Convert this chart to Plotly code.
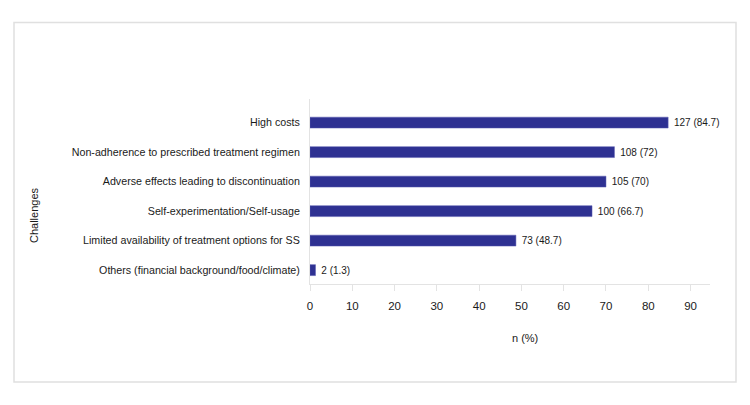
import plotly.graph_objects as go

categories = [
    "Others (financial background/food/climate)",
    "Limited availability of treatment options for SS",
    "Self-experimentation/Self-usage",
    "Adverse effects leading to discontinuation",
    "Non-adherence to prescribed treatment regimen",
    "High costs",
]
counts = [2, 73, 100, 105, 108, 127]
percents = [1.3, 48.7, 66.7, 70, 72, 84.7]
labels = [f" {n} ({p:g})" for n, p in zip(counts, percents)]

FONT = "Liberation Sans, Arial, sans-serif"
L, R, T, B = 310, 40, 99, 121
W, H = 750, 405
pw, ph = W - L - R, H - T - B

def px2paper_x(x):
    return (x - L) / pw

def px2paper_y(y):
    return (H - B - y) / ph

fig = go.Figure(go.Bar(
    y=categories, x=percents, orientation="h",
    marker=dict(color="#2e3192", line=dict(color="#5a5db0", width=0.5)),
    width=0.37,
    text=labels, textposition="outside", cliponaxis=False,
    textfont=dict(family=FONT, size=11, color="#1a1a1a"),
))

fig.update_layout(
    width=W, height=H,
    margin=dict(l=L, r=R, t=T, b=B),
    paper_bgcolor="white", plot_bgcolor="white",
    showlegend=False,
    font=dict(family=FONT, size=11, color="#1a1a1a"),
    xaxis=dict(
        range=[0, 94.6], tickvals=list(range(0, 91, 10)),
        showgrid=False, zeroline=False,
        showline=True, linecolor="#e3e3e3", linewidth=1,
        ticks="outside", ticklen=6, tickcolor="#e3e3e3",
        ticklabelstandoff=5,
        tickfont=dict(family=FONT, size=11.5, color="#1a1a1a"),
    ),
    yaxis=dict(
        range=[-0.47, 5.8],
        showgrid=False, zeroline=False,
        showline=True, linecolor="#e3e3e3", linewidth=1,
        ticks="", ticklabelstandoff=7,
        tickfont=dict(family=FONT, size=10.7, color="#1a1a1a"),
    ),
    shapes=[dict(
        type="rect", xref="paper", yref="paper",
        x0=px2paper_x(14), x1=px2paper_x(736),
        y0=px2paper_y(382), y1=px2paper_y(22.5),
        line=dict(color="#e0e0e0", width=1.5), fillcolor="rgba(0,0,0,0)",
        layer="below",
    )],
    annotations=[
        dict(text="n (%)", xref="paper", yref="paper",
             x=px2paper_x(525), y=px2paper_y(338), showarrow=False,
             xanchor="center", yanchor="middle",
             font=dict(family=FONT, size=11, color="#1a1a1a")),
        dict(text="Challenges", xref="paper", yref="paper",
             x=px2paper_x(34), y=px2paper_y(215), showarrow=False, textangle=-90,
             xanchor="center", yanchor="middle",
             font=dict(family=FONT, size=11, color="#1a1a1a")),
    ],
)

fig.write_html("out.html")
